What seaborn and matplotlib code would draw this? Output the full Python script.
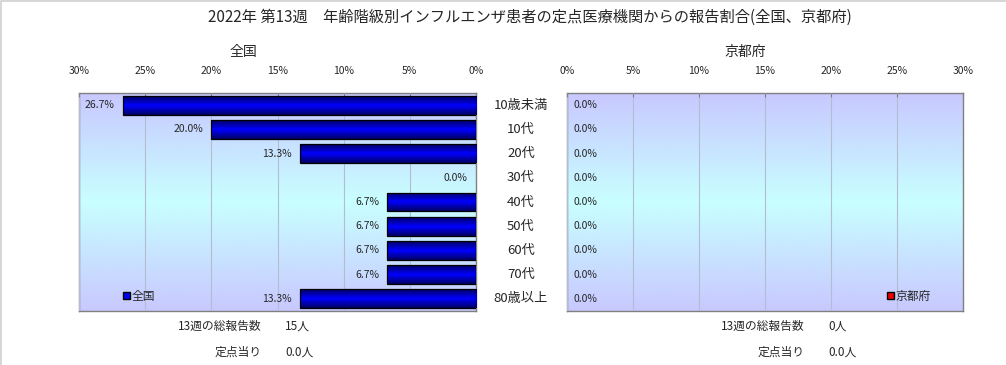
import numpy as np
import pandas as pd
import matplotlib
matplotlib.use("Agg")
import matplotlib.pyplot as plt
import seaborn as sns
from matplotlib.patches import Patch, Rectangle
from matplotlib.lines import Line2D
from matplotlib.colors import LinearSegmentedColormap
from matplotlib.transforms import blended_transform_factory

# data
age_groups = ["10歳未満", "10代", "20代", "30代", "40代", "50代", "60代", "70代", "80歳以上"]
national_pct = [26.7, 20.0, 13.3, 0.0, 6.7, 6.7, 6.7, 6.7, 13.3]
kyoto_pct = [0.0, 0.0, 0.0, 0.0, 0.0, 0.0, 0.0, 0.0, 0.0]
x_ticks = [0, 5, 10, 15, 20, 25, 30]
title = "2022年 第13週　年齢階級別インフルエンザ患者の定点医療機関からの報告割合(全国、京都府)"
national_total = "15人"
national_per_site = "0.0人"
kyoto_total = "0人"
kyoto_per_site = "0.0人"

sns.set_style("white")
plt.rcParams['font.family'] = ['Noto Sans CJK JP', 'DejaVu Sans']

df = pd.DataFrame({"age": age_groups, "national": national_pct, "kyoto": kyoto_pct})

fig = plt.figure(figsize=(10.06, 3.65), dpi=100)
W, H = 1006, 365
ax_l = fig.add_axes([79 / W, (H - 311) / H, 397 / W, 218 / H])
ax_r = fig.add_axes([567 / W, (H - 311) / H, 396 / W, 218 / H])

bg_cmap = LinearSegmentedColormap.from_list("bg", ["#c8c8ff", "#c8ffff", "#c8c8ff"])
bar_cmap = LinearSegmentedColormap.from_list("bar", ["#000060", "#0000ff", "#000060"])


def draw_panel(ax, col, bar_color, xlim, label_side):
    sns.barplot(data=df, x=col, y="age", orient="h", color=bar_color,
                linewidth=0, width=0.78, saturation=1, ax=ax, zorder=3)
    ax.set_xlim(*xlim)
    ax.set_ylim(len(age_groups) - 0.5, -0.5)
    # background gradient
    grad = np.linspace(0, 1, 256).reshape(-1, 1)
    ax.imshow(grad, cmap=bg_cmap, aspect="auto", extent=[0, 1, 0, 1],
              transform=ax.transAxes, zorder=0)
    # bar gradient + outline
    for p in ax.patches:
        if p.get_width() == 0:
            continue
        x0, y0 = p.get_x(), p.get_y()
        im = ax.imshow(grad, cmap=bar_cmap, aspect="auto",
                       extent=[x0, x0 + p.get_width(), y0 + p.get_height(), y0],
                       zorder=3.5)
        im.set_clip_path(p)
        ax.add_patch(Rectangle((x0, y0), p.get_width(), p.get_height(), fill=False,
                               edgecolor="black", linewidth=0.9, zorder=4))
    ax.set_xlim(*xlim)
    ax.set_ylim(len(age_groups) - 0.5, -0.5)
    ax.set_xticks(x_ticks)
    ax.set_xticklabels([f"{t}%" for t in x_ticks], fontsize=7.5)
    ax.xaxis.tick_top()
    ax.tick_params(axis="x", direction="in", length=3, color="#808080", pad=12)
    ax.grid(axis="x", color="#b4bcd0", linewidth=0.8, zorder=1)
    ax.set_axisbelow(False)
    ax.set_yticks([])
    ax.set_xlabel("")
    ax.set_ylabel("")
    for s in ax.spines.values():
        s.set_color("#808080")
        s.set_linewidth(1.0)
    for i, v in enumerate(df[col]):
        if label_side == "left":
            ax.annotate(f"{v:.1f}%", (v, i), xytext=(-6, 0), textcoords="offset points",
                        ha="right", va="center", fontsize=7.5)
        else:
            ax.annotate(f"{v:.1f}%", (v, i), xytext=(5, 0), textcoords="offset points",
                        ha="left", va="center", fontsize=7.5)


draw_panel(ax_l, "national", "#0000ee", (30, 0), "left")
draw_panel(ax_r, "kyoto", "#ee0000", (0, 30), "right")

# category labels between panels
tr = blended_transform_factory(fig.transFigure, ax_l.transData)
for i, name in enumerate(age_groups):
    fig.text(521 / W, i, name, transform=tr, ha="center", va="center", fontsize=9.5)

# legends
ax_l.legend(handles=[Patch(facecolor="#0000ee", edgecolor="black", label="全国")],
            loc="lower left", bbox_to_anchor=(0.085, -0.01), frameon=False,
            handlelength=0.55, handleheight=0.55, handletextpad=0.15, fontsize=8.5)
ax_r.legend(handles=[Patch(facecolor="#ee0000", edgecolor="black", label="京都府")],
            loc="lower right", bbox_to_anchor=(0.945, -0.01), frameon=False,
            handlelength=0.55, handleheight=0.55, handletextpad=0.15, fontsize=8.5)

# titles
fig.text(530 / W, 1 - 17 / H, title, ha="center", va="center", fontsize=11)
fig.text(243 / W, 1 - 52 / H, "全国", ha="center", va="center", fontsize=10)
fig.text(745 / W, 1 - 52 / H, "京都府", ha="center", va="center", fontsize=10)

# footnotes
for xr, xv, total, per in [(262, 285, national_total, national_per_site),
                           (805, 828, kyoto_total, kyoto_per_site)]:
    fig.text(xr / W, 1 - 326 / H, "13週の総報告数", ha="right", va="center", fontsize=8.5)
    fig.text(xv / W, 1 - 326 / H, total, ha="left", va="center", fontsize=8.5)
    fig.text(xr / W, 1 - 352 / H, "定点当り", ha="right", va="center", fontsize=8.5)
    fig.text(xv / W, 1 - 352 / H, per, ha="left", va="center", fontsize=8.5)

# light frame on top and left edges only
fig.lines.append(Line2D([0.0005, 0.0005, 1], [0, 0.9985, 0.9985], transform=fig.transFigure,
                        color="#d0d0d0", linewidth=1.2))

fig.savefig("out.png", dpi=100, facecolor="white")
